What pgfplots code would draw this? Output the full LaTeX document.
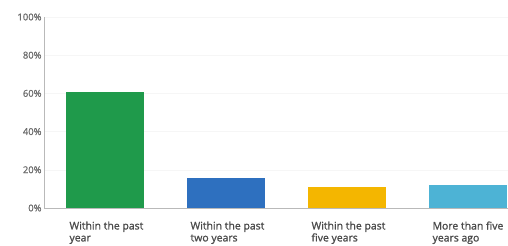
\documentclass[border=0pt]{standalone}
\usepackage{fontspec}
\setmainfont{Open Sans}
\newfontfamily\semib[FakeBold=1.2]{Open Sans}
\usepackage{pgfplots}
\pgfplotsset{compat=1.18}
\definecolor{cgreen}{HTML}{1F9A4B}
\definecolor{cblue}{HTML}{2E70BF}
\definecolor{cgold}{HTML}{F4B600}
\definecolor{clblue}{HTML}{4DB3D5}
\definecolor{ctext}{HTML}{4A4A4A}
\begin{document}
\begin{tikzpicture}
\begin{axis}[
  scale only axis, width=464bp, height=191bp,
  xmin=-0.504, xmax=3.33, ymin=0, ymax=100,
  axis x line=bottom, axis y line=left,
  axis line style={-, draw=gray!55, line width=0.6pt},
  ytick={0,20,...,100},
  yticklabel={\pgfmathprintnumber{\tick}\%},
  yticklabel style={font=\semib\fontsize{9.5}{10}\selectfont, text=gray!85!black, xshift=1bp},
  /pgf/number format/assume math mode=true,
  xtick={0,1,2,3},
  xticklabels={{Within the past\\year},{Within the past\\two years},{Within the past\\five years},{More than five\\years ago}},
  xticklabel style={align=left, anchor=north west, xshift=-39bp, yshift=-10bp,
    font=\semib\fontsize{10.5}{12}\selectfont, text=ctext},
  major tick length=0pt,
  ymajorgrids, grid style={gray!7, line width=0.4pt},
  clip=false,
]
\addplot[ybar, bar width=78bp, bar shift=0pt, fill=cgreen, draw=none] coordinates {(0,60.7)};
\addplot[ybar, bar width=78bp, bar shift=0pt, fill=cblue, draw=none] coordinates {(1,15.7)};
\addplot[ybar, bar width=78bp, bar shift=0pt, fill=cgold, draw=none] coordinates {(2,11)};
\addplot[ybar, bar width=78bp, bar shift=0pt, fill=clblue, draw=none] coordinates {(3,12)};
\end{axis}
\pgfresetboundingbox
\path[use as bounding box] ([xshift=-44bp,yshift=-38bp]current axis.south west) rectangle ([yshift=17bp]current axis.north east);
\end{tikzpicture}
\end{document}
